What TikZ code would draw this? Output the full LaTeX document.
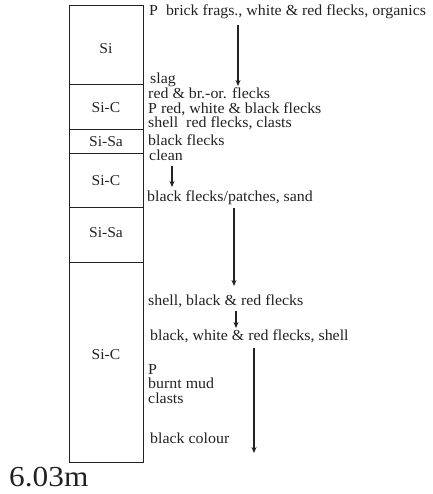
\documentclass[tikz,border=0pt]{standalone}
\usepackage{fontspec}
\setmainfont{Liberation Serif}[FakeStretch=1.04]
\newfontfamily\bigfont{Liberation Serif}[FakeStretch=1.08]
\usetikzlibrary{arrows.meta}
\definecolor{ink}{HTML}{222222}
\tikzset{
  txt/.style={anchor=base west, inner sep=0pt, text=ink, font=\fontsize{15.3}{16}\selectfont},
  lab/.style={anchor=center, inner sep=0pt, text=ink, font=\fontsize{15}{16}\selectfont},
  bed/.style={draw=ink, line width=1pt},
  arr/.style={draw=ink, line width=1.3pt, -{Stealth[length=6pt,width=5pt]}}
}
\begin{document}
\begin{tikzpicture}[x=1pt,y=-1pt]
\useasboundingbox (0,0) rectangle (432,494);
% column
\draw[bed] (69,6) rectangle (143,85);
\draw[bed] (69,85) rectangle (143,130);
\draw[bed] (69,130) rectangle (143,154);
\draw[bed] (69,154) rectangle (143,207);
\draw[bed] (69,207) rectangle (143,262);
\draw[bed] (69,262) rectangle (143,462);
% layer labels
\node[lab] (l1) at (106,49) {Si};
\node[lab] (l2) at (106,108) {Si-C};
\node[lab] (l3) at (106,142) {Si-Sa};
\node[lab] (l4) at (106,181) {Si-C};
\node[lab] (l5) at (106,233) {Si-Sa};
\node[lab] (l6) at (106,355) {Si-C};
% descriptions
\node[txt] (t1) at (149,16) {P\ \ brick frags., white \& red flecks, organics};
\node[txt] (t2) at (150,84) {slag};
\node[txt] (t3) at (148,99) {red \& br.-or. flecks};
\node[txt] (t4) at (148,113.5) {P red, white \& black flecks};
\node[txt] (t5) at (148,128) {shell\ \ red flecks, clasts};
\node[txt] (t6) at (148,146) {black flecks};
\node[txt] (t7) at (149,161) {clean};
\node[txt] (t8) at (147,201) {black flecks/patches, sand};
\node[txt] (t9) at (148,305) {shell, black \& red flecks};
\node[txt] (t10) at (150,340) {black, white \& red flecks, shell};
\node[txt] (t11) at (148,374) {P};
\node[txt] (t12) at (148,388.5) {burnt mud};
\node[txt] (t13) at (148,403) {clasts};
\node[txt] (t14) at (150,443) {black colour};
\node[anchor=base west, inner sep=0pt, text=ink, font=\bigfont\fontsize{29}{30}\selectfont] (depth) at (9,486) {6.03m};
% arrows
\coordinate (a1s) at (238,25); \coordinate (a1e) at (238,86);
\coordinate (a2s) at (172,166); \coordinate (a2e) at (172,187);
\coordinate (a3s) at (234,208); \coordinate (a3e) at (234,286);
\coordinate (a4s) at (236,311); \coordinate (a4e) at (236,328);
\coordinate (a5s) at (254,348); \coordinate (a5e) at (254,453);
\draw[arr] (a1s) -- (a1e);
\draw[arr] (a2s) -- (a2e);
\draw[arr] (a3s) -- (a3e);
\draw[arr] (a4s) -- (a4e);
\draw[arr] (a5s) -- (a5e);
\end{tikzpicture}
\end{document}
